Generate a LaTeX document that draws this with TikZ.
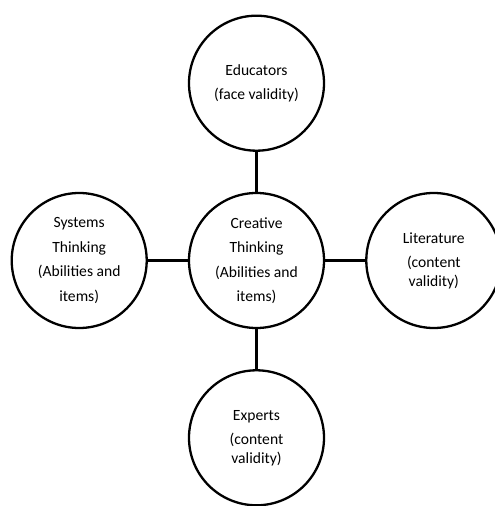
\documentclass[tikz,border=0pt]{standalone}
\usepackage{fontspec}
\setmainfont{Carlito}
\usetikzlibrary{positioning}

\begin{document}
\begin{tikzpicture}[
      topic/.style={circle,draw=black,line width=2.3pt,minimum size=135pt,
                    inner sep=0pt,align=center,
                    font=\fontsize{15.6}{18.5}\selectfont},
      link/.style={draw=black,line width=2.3pt},
      node distance=40pt]

      \useasboundingbox (0,0) rectangle (495pt,506pt);

      % Centre
      \node[topic] (creative) at (256.5pt,245.5pt)
        {Creative\\[6pt]Thinking\\[6pt](Abilities and\\[6pt]items)};

      % Surrounding circles
      \node[topic,above=of creative] (educators)
        {Educators\\[6pt](face validity)};
      \node[topic,left=of creative] (systems)
        {Systems\\[6pt]Thinking\\[6pt](Abilities and\\[6pt]items)};
      \node[topic,right=of creative] (literature)
        {Literature\\[6pt](content\\validity)};
      \node[topic,below=of creative] (experts)
        {Experts\\[6pt](content\\validity)};

      % Connectors
      \draw[link] (creative) -- (educators);
      \draw[link] (creative) -- (systems);
      \draw[link] (creative) -- (literature);
      \draw[link] (creative) -- (experts);
    \end{tikzpicture}
\end{document}
